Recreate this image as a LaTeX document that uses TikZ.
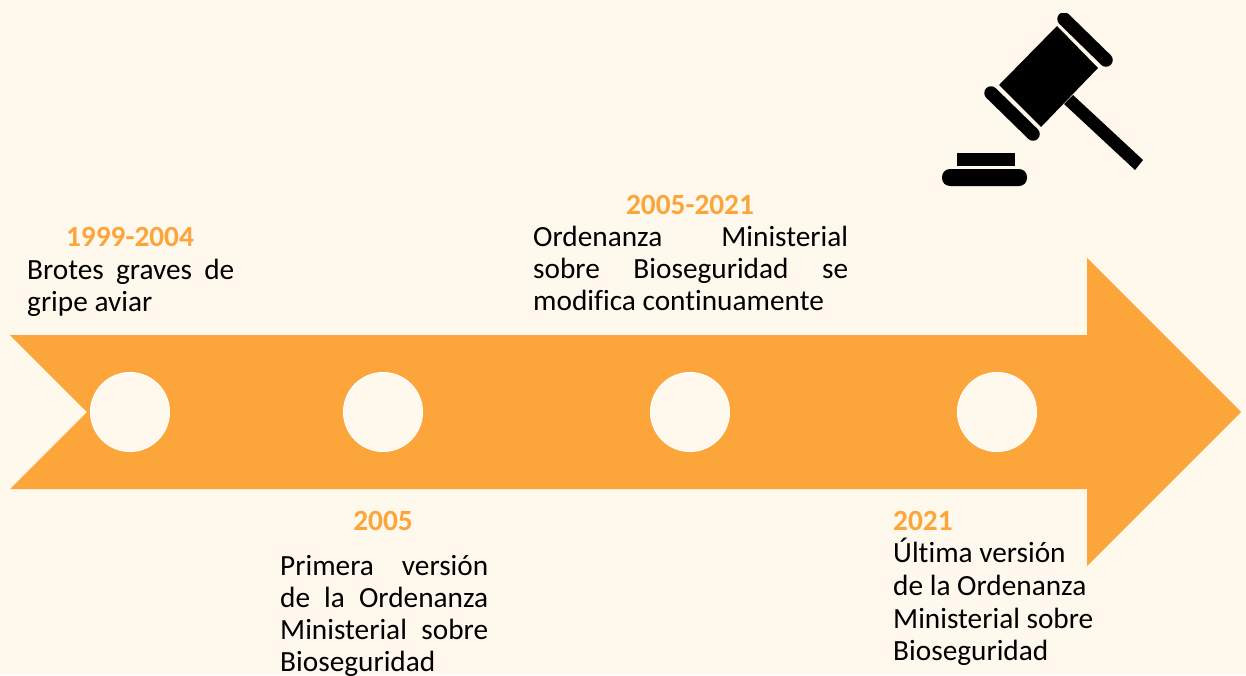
\documentclass[tikz,border=0pt]{standalone}
\usepackage{fontspec}
\setmainfont[Ligatures=NoCommon]{Carlito}
\definecolor{fondo}{HTML}{FFF8ED}
\definecolor{naranja}{HTML}{FBA53A}
\tikzstyle{hito}=[circle, draw = white, line width = 1pt, fill = fondo, minimum size = 79pt, inner sep = 0pt]
\tikzstyle{anio}=[text = naranja, font = \fontsize{29.3}{32}\selectfont\bfseries, inner sep = 0pt]
\tikzstyle{texto}=[anchor = north west, inner sep = 0pt, align = left, font = \fontsize{29.3}{32}\selectfont]
\tikzstyle{banda}=[line width = 13.5pt, line cap = round]
\newcommand{\linea}[2]{\makebox[#1][s]{#2}}
\begin{document}
\begin{tikzpicture}[x=1pt, y=-1pt]
  \useasboundingbox (0,0) rectangle (1246,675);
  \fill[fondo] (0,0) rectangle (1246,675);
  % flecha
  \fill[naranja] (10,335) -- (1087,335) -- (1087,258) -- (1241,412) -- (1087,566) -- (1087,489) -- (10,489) -- (87,412) -- cycle;
  \node[hito] (h1) at (130,412) {};
  \node[hito] (h2) at (383,412) {};
  \node[hito] (h3) at (690,412) {};
  \node[hito] (h4) at (997,412) {};
  % textos
  \node[anio] (a1) at (130,237) {1999-2004};
  \node[texto] (t1) at (27,259) {\linea{207pt}{Brotes graves de}\\gripe aviar};
  \node[anio] (a2) at (383,521) {2005};
  \node[texto] (t2) at (280,555) {\linea{208pt}{Primera versión}\\\linea{208pt}{de la Ordenanza}\\\linea{208pt}{Ministerial sobre}\\Bioseguridad};
  \node[anio] (a3) at (690,205) {2005-2021};
  \node[texto] (t3) at (533,226) {\linea{315pt}{Ordenanza Ministerial}\\\linea{315pt}{sobre Bioseguridad se}\\modifica continuamente};
  \node[anio, anchor = west] (a4) at (893,521) {2021};
  \node[texto] (t4) at (893,538) {Última versión\\[0.7pt]de la Ordenanza\\[0.7pt]Ministerial sobre\\[0.7pt]Bioseguridad};
  % mazo
  \fill (1073,95) -- (1143,160) -- (1135,170) -- (1064,104) -- cycle;
  \fill (1057,26) -- (1098,68) -- (1041,127) -- (999,85) -- cycle;
  \begin{scope}
    \clip (930,13) rectangle (1160,200);
    \draw[banda] (1064,19) -- (1106,60);
  \end{scope}
  \draw[banda] (991,93) -- (1033,134);
  \fill (957,153) rectangle (1015,166);
  \fill[rounded corners = 8pt] (942,169) rectangle (1027,186);
\end{tikzpicture}
\end{document}
